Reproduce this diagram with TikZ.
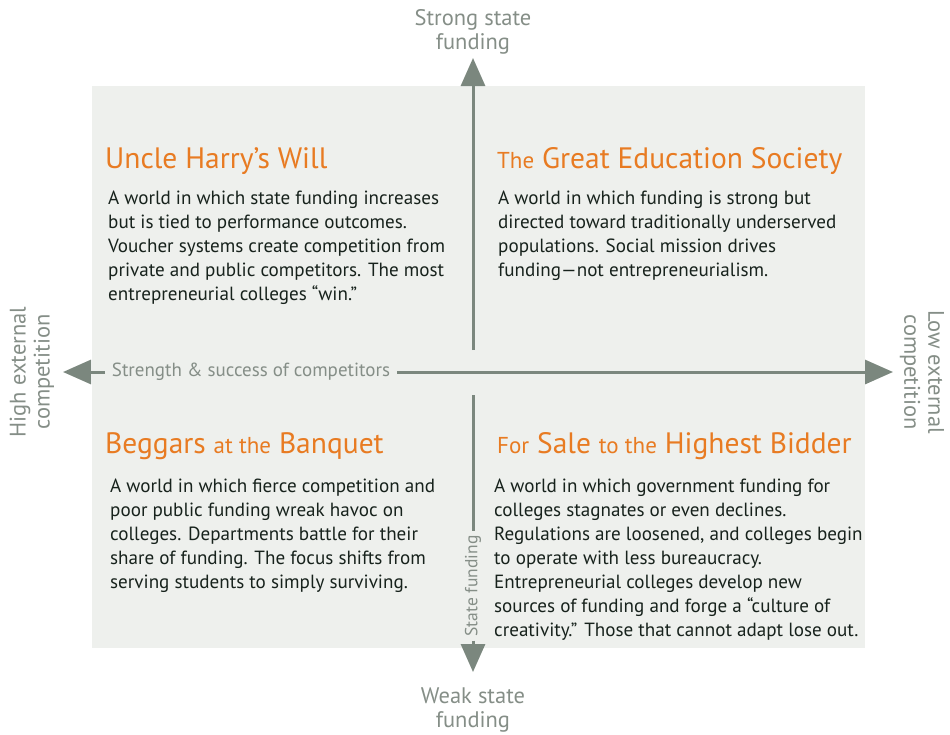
\documentclass[tikz,border=0pt]{standalone}
\usepackage{fontspec}
\setmainfont{PT Sans}
\usetikzlibrary{arrows.meta}
\definecolor{bg}{HTML}{EEF0ED}
\definecolor{axis}{HTML}{7B877E}
\definecolor{lbl}{HTML}{858E87}
\definecolor{ttl}{HTML}{E87B22}
\definecolor{txt}{HTML}{17221C}
\tikzset{
  axisline/.style={draw=axis, line width=3pt},
  axisarrow/.style={axisline, -{Triangle[length=28pt,width=24pt]}},
  axislbl/.style={text=lbl, font=\fontsize{22.5}{24}\selectfont, inner sep=0pt, align=center},
  ttlnode/.style={text=ttl, anchor=base west, inner sep=0pt, font=\fontsize{29.5}{30}\selectfont},
  bodynode/.style={text=txt, anchor=north west, inner sep=0pt, align=left, font=\fontsize{19.1}{24}\selectfont},
}
\newcommand{\sm}[1]{{\fontsize{23}{24}\selectfont #1}}
\begin{document}
\begin{tikzpicture}[x=1pt,y=-1pt]
\path[use as bounding box] (0,0) rectangle (950,734);
\fill[bg] (92,86) rectangle (865,648);
% vertical axis
\coordinate (vtop) at (473,58);
\coordinate (vstart) at (473,350);
\coordinate (vlow) at (473,395);
\coordinate (vbot) at (473,672);
\node[axislbl, rotate=90, font=\fontsize{17.5}{20}\selectfont, inner sep=4pt] (sf) at (473,586) {State funding};
\draw[axisarrow] (vstart) -- (vtop);
\draw[axisline] (vlow) -- (sf.east);
\draw[axisarrow] (sf.west) -- (vbot);
% horizontal axis
\coordinate (hleft) at (63,372);
\coordinate (hright) at (893,372);
\node[axislbl, font=\fontsize{19}{20}\selectfont, inner sep=7pt] (sc) at (251,372) {Strength \& success of competitors};
\draw[axisarrow] (sc.west) -- (hleft);
\draw[axisarrow] (sc.east) -- (hright);
% end labels
\node[axislbl] (strong) at (473,32) {Strong state\\funding};
\node[axislbl] (weak) at (473,710) {Weak state\\funding};
\node[axislbl, rotate=90] (high) at (32,372) {High external\\competition};
\node[axislbl, rotate=-90] (low) at (922,372) {Low external\\competition};
% quadrants
\node[ttlnode] (t1) at (105,168) {Uncle Harry’s Will};
\node[bodynode] (b1) at (108,191) {A world in which state funding increases\\but is tied to performance outcomes.\\Voucher systems create competition from\\private and public competitors. The most\\entrepreneurial colleges “win.”};
\node[ttlnode] (t2) at (497,168) {\sm{The} Great Education Society};
\node[bodynode] (b2) at (498,191) {A world in which funding is strong but\\directed toward traditionally underserved\\populations. Social mission drives\\funding—not entrepreneurialism.};
\node[ttlnode] (t3) at (105,453) {Beggars \sm{at the} Banquet};
\node[bodynode] (b3) at (110,479) {A world in which fierce competition and\\poor public funding wreak havoc on\\colleges. Departments battle for their\\share of funding. The focus shifts from\\serving students to simply surviving.};
\node[ttlnode] (t4) at (497,453) {\sm{For} Sale \sm{to the} Highest Bidder};
\node[bodynode] (b4) at (494,479) {A world in which government funding for\\colleges stagnates or even declines.\\Regulations are loosened, and colleges begin\\to operate with less bureaucracy.\\Entrepreneurial colleges develop new\\sources of funding and forge a “culture of\\creativity.” Those that cannot adapt lose out.};
\end{tikzpicture}
\end{document}
